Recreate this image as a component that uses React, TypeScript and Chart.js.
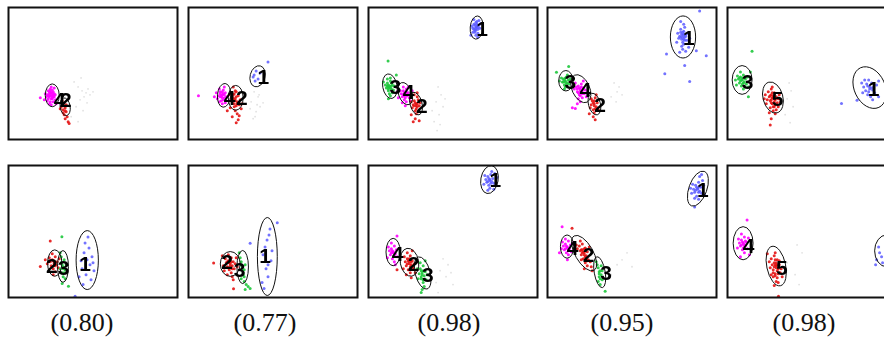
import React, { useEffect, useRef } from "react";
import { Chart, registerables } from "chart.js";

Chart.register(...registerables);

// ---------- captions ----------
const captions = ["(0.80)", "(0.77)", "(0.98)", "(0.95)", "(0.98)"];

// ---------- panel data (local coordinates, x 0..170, y 0..133 downwards) ----------
// points are flat lists: x1, y1, x2, y2, ...
// ellipses: [cx, cy, rx, ry, angleDeg]
// labels: [text, x, y]

// Panel 1 (top row, first)
const p1Magenta = [43,88, 41,85, 45,90, 40,92, 44,83, 46,87, 42,95, 39,88, 47,93, 43,80, 41,97, 45,85, 38,90, 44,92, 42,86, 46,81, 40,84, 43,98, 37,87, 45,95, 41,90, 44,89, 42,82, 39,94, 47,88, 36,93, 32,91, 48,97, 42,89, 44,91, 43,86, 41,87, 45,88, 43,92, 42,84, 44,86, 40,89, 46,90];
const p1Red = [54,96, 56,99, 55,103, 57,101, 53,100, 58,105, 56,108, 59,110, 57,112, 60,115, 55,106, 52,102, 58,98, 61,117, 54,94, 57,104];
const p1Gray = [70,80, 74,84, 78,86, 82,88, 76,90, 80,82, 72,93, 85,85, 68,100, 75,104, 79,96, 63,110, 70,115, 66,75, 73,71];
const p1Ellipses = [[44,88.5,7,11.5,0], [57,100,5,9,-10]];
const p1Labels = [["4",51.5,92.5], ["2",57.7,92.5]];

// Panel 2
const p2Blue = [66,68, 70,72, 68,64, 72,66, 80,55, 67,74, 65,70];
const p2Magenta = [34,88, 32,85, 36,91, 30,89, 35,83, 37,86, 33,94, 29,92, 38,90, 31,82, 34,97, 36,80, 28,86, 33,90, 35,93, 31,95, 26,90, 10,89, 37,96, 32,87, 33,89, 35,87, 34,91, 32,90, 36,88, 34,85];
const p2Red = [47,92, 45,88, 49,95, 44,96, 50,89, 46,100, 48,85, 51,98, 43,92, 47,104, 52,93, 45,80, 49,107, 44,110, 50,113, 42,101, 53,102, 48,116, 46,97, 41,88, 54,97, 47,84, 39,104, 51,109, 47,94, 48,90, 46,93, 49,97, 45,91, 48,99, 46,87];
const p2Gray = [66,85, 70,90, 63,95, 72,100, 68,105, 65,112, 71,88, 75,96, 62,102, 69,98, 67,110];
const p2Ellipses = [[69.5,69.3,7.5,10.8,15], [35.8,88.5,6.7,12,5], [47.5,91,7.5,12.5,0]];
const p2Labels = [["1",75.3,69.5], ["4",41.3,90.2], ["2",53.7,90.2]];

// Panel 3
const p3Blue = [108,20, 106,17, 110,22, 107,25, 109,14, 111,18, 105,21, 108,28, 110,26, 106,12, 107,23, 109,17, 112,21, 104,19, 108,15, 110,30, 105,25, 111,13, 113,16, 103,28, 108,21, 109,19, 107,18, 108,23, 110,20, 106,22];
const p3Green = [21,79, 19,76, 23,82, 20,84, 22,74, 24,78, 18,81, 21,87, 25,83, 19,72, 23,76, 17,78, 22,89, 20,80, 24,86, 26,79, 15,75, 22,71, 20,92, 19.7,54, 28,68, 21,80, 20,78, 22,81, 23,79, 20,82, 19,79];
const p3Magenta = [37,87, 35,84, 39,89, 34,90, 38,82, 40,86, 36,93, 33,87, 41,91, 35,80, 38,95, 32,84, 40,80, 36,89, 42,94, 34,96, 30,91, 44,84, 37,99, 29,85, 37,88, 36,86, 38,85, 37,91, 35,88, 39,87];
const p3Red = [48,97, 46,94, 49,100, 45,98, 50,93, 47,104, 49,90, 44,101, 51,99, 48,107, 46,88, 50,105, 43,95, 52,96, 47,112, 45,115, 51,114, 43,108, 49,86, 48,99, 47,96, 49,97, 48,102, 46,99];
const p3Gray = [70,80, 73,88, 68,95, 75,100, 71,108, 66,115, 72,118, 77,92, 64,104, 69,124];
const p3Ellipses = [[108.8,20.2,6.5,11.7,5], [21.5,79.3,7.2,12.5,-10], [37,86.8,6.7,11.7,-20], [47.8,96.8,6,11.7,-15]];
const p3Labels = [["1",114.3,20.8], ["3",27,79.5], ["4",40.3,84.2], ["2",53.7,98.5]];

// Panel 4
const p4Blue = [136,28, 134,25, 138,30, 135,32, 137,24, 139,27, 133,29, 136,35, 140,33, 134,22, 137,37, 132,31, 138,20, 135,39, 141,26, 131,26, 136,42, 139,44, 133,45, 143,31, 130,35, 137,17, 142,40, 134,14, 119.7,46.8, 159.7,48.5, 118,66.8, 143,74.5, 153,3.5, 138,58.5, 149.7,43.5, 136,30, 137,27, 135,27, 138,33, 134,30, 136,25, 139,29, 137,32];
const p4Green = [18,74, 16,72, 20,76, 17,78, 19,70, 21,73, 15,75, 18,80, 22,77, 14,71, 20,68, 17,82, 23,72, 12,74, 21.3,59.5, 9,65.2, 18,75, 17,73, 19,77, 16,75, 18,71];
const p4Magenta = [33,82, 31,79, 35,84, 30,85, 34,77, 36,81, 32,88, 29,80, 37,87, 28,76, 35,91, 31,92, 38,83, 27,82, 33,95, 26,78, 39,90, 30,97, 25,101, 28,101.8, 36,74, 40,86, 33,84, 32,81, 34,80, 31,86, 35,87, 33,89, 30,82];
const p4Red = [47,97, 45,94, 49,100, 46,103, 48,91, 44,98, 50,96, 47,106, 43,101, 49,88, 46,110, 51,103, 44,92, 48,113, 42,107, 47,99, 46,96, 48,102, 47,94];
const p4Gray = [67,76, 70,85, 72,80, 64,90, 69,95, 75,88];
const p4Ellipses = [[136.3,29.7,12.7,21.2,0], [18.5,73.8,7.2,10.3,0], [33.5,81.8,8.8,15,-25], [47.2,97.3,6,11.2,-15]];
const p4Labels = [["1",142.3,30.2], ["3",23,74.2], ["4",38,82.8], ["2",53,97.5]];

// Panel 5
const p5Green = [15,73, 13,70, 17,75, 12,76, 16,68, 18,72, 11,72, 14,79, 19,77, 10,69, 16,82, 13,65, 20,70, 9,78, 21,90, 24.7,44.2, 21,80, 8,73, 23,65, 14,73, 15,71, 13,74, 16,76, 12,71, 15,77];
const p5Red = [46,91, 44,88, 48,93, 43,94, 47,86, 49,90, 42,90, 45,97, 50,96, 41,85, 47,100, 44,82, 51,92, 40,93, 46,104, 43,101, 49,103, 38,88, 52,88, 45,80, 48,107, 42,106, 39,97, 51,100, 44,112, 43,118.5, 37,92, 53,95, 45,91, 46,89, 44,93, 47,95, 45,86, 43,89, 48,98, 46,100, 44,96, 47,92];
const p5Blue = [143,80, 140,77, 146,83, 139,84, 145,76, 147,80, 141,88, 137,80, 148,86, 142,73, 144,90, 136,86, 150,78, 138,73, 146,93, 130.3,93.5, 152,90, 135,76, 152,74, 114.7,96.8, 143,82, 141,79, 145,81, 142,85];
const p5Gray = [62,76, 64,84, 60,92, 66,100, 58,108, 63,116];
const p5Ellipses = [[14.7,73,10,14.5,0], [45.7,90.7,10,16,-15], [143,80.7,15.5,22,-25]];
const p5Labels = [["3",20.3,74.2], ["5",50.3,91.8], ["1",147,81.8]];

// Panel 6 (bottom row, first)
const p6Red = [46,98, 44,95, 48,100, 43,101, 47,92, 49,97, 42,97, 45,104, 50,103, 41,93, 47,107, 44,89, 39,99, 32,101.7, 37,95, 51,94, 42,76, 45,110, 46,99, 45,96, 47,101];
const p6Green = [55,102, 53,98, 57,105, 54,108, 56,95, 52,104, 58,100, 55,112, 53,92, 57,114, 60.3,121.7, 54,119, 52,88, 53.7,71.7, 55,104, 54,100, 56,108];
const p6Blue = [79,95, 76,88, 82,100, 74,104, 84,92, 78,110, 81,83, 73,96, 86,106, 77,78, 83,115, 75,120, 80,72, 85,98, 71,112, 67,131.7];
const p6Ellipses = [[46.5,98.3,7.2,13.3,0], [54.8,101.7,5.5,16,0], [79.2,95.3,11.2,29.7,0]];
const p6Labels = [["2",43.7,101], ["3",55.3,102.3], ["1",77,99]];

// Panel 7
const p7Red = [42,99, 40,96, 44,101, 39,102, 43,93, 45,97, 38,98, 41,105, 46,104, 37,94, 43,108, 40,90, 47,99, 35,101, 44,112, 39,110, 36,106, 48,93, 25.3,98.3, 45,115, 45.3,124.3, 34,91, 49,102, 42,101, 41,98, 43,97, 40,103, 44,104, 39,97, 42,95];
const p7Green = [54,102, 53,97, 56,105, 55,110, 52,93, 57,100, 53,114, 56,117, 58,120, 60,122, 51,88, 57,125, 62,124, 54,105, 55,108, 53,100, 56,112];
const p7Blue = [79,75, 77,82, 81,70, 75,90, 83,96, 78,104, 80,112, 74,118, 84,86, 82,64, 76,124, 89.3,57.7, 62,78.3, 80,100];
const p7Ellipses = [[42,99.2,10,12.5,0], [54.5,102.3,5.8,16.7,0], [79.3,91.7,10,39.3,0]];
const p7Labels = [["2",38.7,96.7], ["3",51.3,105], ["1",77,91]];

// Panel 8
const p8Blue = [122,14, 120,11, 124,16, 119,17, 123,9, 125,13, 118,14, 121,20, 126,18, 117,10, 122,23, 124,6, 120,25, 127,8, 116,19, 126,24, 129,12, 122,15, 121,13, 123,18, 120,16];
const p8Magenta = [25,87, 23,84, 27,89, 22,90, 26,81, 28,85, 21,86, 24,94, 29,92, 20,82, 26,97, 23,78, 28.7,71, 19,93, 27,100, 25,88, 24,86, 26,91, 23,88];
const p8Red = [41,97, 39,94, 43,100, 38,101, 42,91, 44,96, 37,97, 40,105, 45,103, 36,92, 42,108, 39,88, 46,99, 35,104, 44,86, 28.7,105, 43,113, 47,108, 38,110, 41,99, 40,96, 42,102, 39,99, 43,97, 41,94];
const p8Green = [54,108, 52,104, 56,111, 53,114, 55,101, 57,107, 51,109, 55,118, 58,115, 52,98, 56,122, 50,114, 54,125, 57,96, 53,128, 59,110, 49,104, 54,110, 55,106, 53,112, 55,115, 53,106];
const p8Gray = [75,94, 80,100, 72,106, 78,112, 68,118, 83,108, 85,120, 70,128];
const p8Ellipses = [[121.7,14.2,8.7,14.2,10], [24.8,87.2,7.2,13.8,0], [41.2,97.5,9.2,14.2,-10], [54.5,108.3,7.5,16.7,-15]];
const p8Labels = [["1",127.7,14.3], ["4",29.3,88.3], ["2",45.3,99], ["3",59.7,110]];

// Panel 9
const p9Blue = [151,23, 149,20, 153,26, 148,27, 152,17, 154,22, 147,24, 150,31, 155,28, 146,19, 152,34, 156,15, 148,33, 153,11, 157,20, 145,28, 148,41.7, 158,30, 144,23, 155,9, 151,24, 150,22, 152,27, 149,25, 153,21];
const p9Magenta = [20,82, 18,79, 22,84, 17,85, 21,76, 23,80, 16,81, 19,88, 24,87, 15,77, 21,90, 18,74, 14,84, 25,78, 14.7,61.7, 20,95, 12,88, 20,83, 19,81, 21,86, 18,84];
const p9Red = [37,88, 35,85, 39,91, 34,90, 38,83, 40,87, 33,86, 36,94, 41,95, 32,81, 38,98, 35,79, 43,97, 30,84, 40,101, 33,76, 44,102, 29,80, 37,104, 42,82, 34,95, 24.7,63.3, 45,106, 37,90, 36,87, 38,92, 35,88, 39,94, 34,85, 40,96, 37,84];
const p9Green = [52,107, 51,103, 54,110, 53,114, 50,100, 55,106, 51,117, 53,120, 49,97, 54,101, 55,115, 58,126.7, 52,109, 53,106, 52,112];
const p9Gray = [75,95, 80,88, 70,100, 85,102, 64,110];
const p9Ellipses = [[151.3,23.3,9,18.5,20], [19.7,81.7,6.7,11.7,0], [36.8,88.3,9,20,-30], [52.5,107.5,5.5,15.8,-10]];
const p9Labels = [["1",156.3,24.3], ["4",25.3,82.3], ["2",41.3,90], ["3",59,108.3]];

// Panel 10
const p10Magenta = [16,78, 14,75, 18,80, 13,81, 17,72, 19,77, 12,78, 15,85, 20,84, 11,74, 17,88, 14,69, 21,73, 10,83, 19.7,55, 13,92, 22,90, 16,79, 15,77, 17,81, 14,80, 16,83, 18,76];
const p10Red = [49,101, 47,98, 51,104, 46,105, 50,95, 52,100, 45,100, 48,109, 53,108, 44,94, 50,113, 47,91, 54,104, 43,103, 49,117, 46,112, 52,96, 42,97, 51,118, 48,88, 44,110, 55,112, 47,121, 40,89, 51.3,131.7, 49,103, 48,100, 50,106, 47,102, 49,98, 51,109, 48,111, 50,100, 46,108, 48,95];
const p10Blue = [150,95, 153,88, 155,92, 152,82, 156,98, 149,100];
const p10Gray = [70,80, 75,88, 68,110, 72,120, 60,98];
const p10Ellipses = [[15.7,78.3,10,16.7,0], [49,101.3,9.5,20.3,-12], [160,86,12,16,0]];
const p10Labels = [["4",21.3,81], ["5",54.7,102.3]];

// ---------- styles ----------
const MAGENTA = "rgba(255,0,255,0.9)";
const RED = "rgba(228,20,20,0.9)";
const GREEN = "rgba(30,200,60,0.9)";
const BLUE = "rgba(90,90,255,0.85)";
const GRAY = "rgba(218,218,218,0.8)";

type PanelDef = {
  sets: [number[], string][];
  ellipses: number[][];
  labels: (string | number)[][];
};

const panels: PanelDef[] = [
  { sets: [[p1Magenta, MAGENTA], [p1Red, RED], [p1Gray, GRAY]], ellipses: p1Ellipses, labels: p1Labels },
  { sets: [[p2Blue, BLUE], [p2Red, RED], [p2Magenta, MAGENTA], [p2Gray, GRAY]], ellipses: p2Ellipses, labels: p2Labels },
  { sets: [[p3Blue, BLUE], [p3Red, RED], [p3Magenta, MAGENTA], [p3Green, GREEN], [p3Gray, GRAY]], ellipses: p3Ellipses, labels: p3Labels },
  { sets: [[p4Blue, BLUE], [p4Red, RED], [p4Magenta, MAGENTA], [p4Green, GREEN], [p4Gray, GRAY]], ellipses: p4Ellipses, labels: p4Labels },
  { sets: [[p5Blue, BLUE], [p5Red, RED], [p5Green, GREEN], [p5Gray, GRAY]], ellipses: p5Ellipses, labels: p5Labels },
  { sets: [[p6Blue, BLUE], [p6Green, GREEN], [p6Red, RED]], ellipses: p6Ellipses, labels: p6Labels },
  { sets: [[p7Blue, BLUE], [p7Green, GREEN], [p7Red, RED]], ellipses: p7Ellipses, labels: p7Labels },
  { sets: [[p8Blue, BLUE], [p8Green, GREEN], [p8Red, RED], [p8Magenta, MAGENTA], [p8Gray, GRAY]], ellipses: p8Ellipses, labels: p8Labels },
  { sets: [[p9Blue, BLUE], [p9Green, GREEN], [p9Red, RED], [p9Magenta, MAGENTA], [p9Gray, GRAY]], ellipses: p9Ellipses, labels: p9Labels },
  { sets: [[p10Blue, BLUE], [p10Red, RED], [p10Magenta, MAGENTA], [p10Gray, GRAY]], ellipses: p10Ellipses, labels: p10Labels },
];

// layout
const COL_LEFT = [8, 188, 368, 547, 727];
const ROW_TOP = [7, 165];
const CAPTION_CENTER = [82, 265, 449, 622, 804];
const W = 170;
const H = 133;

function toXY(flat: number[]) {
  const out: { x: number; y: number }[] = [];
  for (let i = 0; i + 1 < flat.length; i += 2) out.push({ x: flat[i], y: flat[i + 1] });
  return out;
}

function PanelChart({ def, left, top }: { def: PanelDef; left: number; top: number }) {
  const ref = useRef<HTMLCanvasElement | null>(null);
  useEffect(() => {
    const canvas = ref.current;
    if (!canvas) return;
    const overlay = {
      id: "overlay",
      afterDatasetsDraw(chart: any) {
        const { ctx, chartArea, scales } = chart;
        const xs = scales.x;
        const ys = scales.y;
        ctx.save();
        ctx.beginPath();
        ctx.rect(chartArea.left, chartArea.top, chartArea.right - chartArea.left, chartArea.bottom - chartArea.top);
        ctx.clip();
        ctx.strokeStyle = "#111";
        ctx.lineWidth = 1;
        for (const e of def.ellipses) {
          const [cx, cy, rx, ry, ang] = e;
          const px = xs.getPixelForValue(cx);
          const py = ys.getPixelForValue(cy);
          const prx = Math.abs(xs.getPixelForValue(cx + rx) - px);
          const pry = Math.abs(ys.getPixelForValue(cy + ry) - py);
          ctx.beginPath();
          ctx.ellipse(px, py, prx, pry, (ang * Math.PI) / 180, 0, Math.PI * 2);
          ctx.stroke();
        }
        ctx.fillStyle = "#000";
        ctx.font = 'bold 21px "Liberation Sans", Arial, sans-serif';
        ctx.textAlign = "center";
        ctx.textBaseline = "alphabetic";
        for (const l of def.labels) {
          const px = xs.getPixelForValue(l[1] as number);
          const py = ys.getPixelForValue(l[2] as number);
          ctx.fillText(String(l[0]), px, py + 7.5);
        }
        ctx.restore();
        // frame
        ctx.save();
        ctx.strokeStyle = "#111";
        ctx.lineWidth = 2;
        ctx.strokeRect(chartArea.left, chartArea.top, chartArea.right - chartArea.left, chartArea.bottom - chartArea.top);
        ctx.restore();
      },
    };
    const chart = new Chart(canvas, {
      type: "scatter",
      data: {
        datasets: def.sets.map(([pts, color]) => ({
          data: toXY(pts),
          backgroundColor: color,
          borderWidth: 0,
          pointRadius: color === GRAY ? 0.9 : 1.5,
          pointBorderWidth: 0,
          pointHoverRadius: 0,
        })),
      },
      options: {
        responsive: false,
        maintainAspectRatio: false,
        animation: false,
        events: [],
        layout: { padding: 1 },
        scales: {
          x: { type: "linear", min: 0, max: W, display: false },
          y: { type: "linear", min: 0, max: H, reverse: true, display: false },
        },
        plugins: {
          legend: { display: false },
          tooltip: { enabled: false },
          title: { display: false },
        },
      },
      plugins: [overlay],
    } as any);
    return () => chart.destroy();
  }, [def]);
  return (
    <canvas
      ref={ref}
      width={W + 2}
      height={H + 2}
      style={{ position: "absolute", left: left - 1, top: top - 1, width: W + 2, height: H + 2, display: "block" }}
    />
  );
}

export default function App() {
  return (
    <div
      style={{
        position: "fixed",
        left: 0,
        top: 0,
        width: 884,
        height: 339,
        overflow: "hidden",
        background: "#fff",
      }}
    >
      {panels.map((def, i) => (
        <PanelChart key={i} def={def} left={COL_LEFT[i % 5]} top={ROW_TOP[Math.floor(i / 5)]} />
      ))}
      {captions.map((c, i) => (
        <div
          key={"c" + i}
          style={{
            position: "absolute",
            left: CAPTION_CENTER[i] - 60,
            top: 308,
            width: 120,
            textAlign: "center",
            fontFamily: '"Liberation Serif", "Times New Roman", serif',
            fontSize: 26,
            lineHeight: "30px",
            color: "#111",
          }}
        >
          {c}
        </div>
      ))}
    </div>
  );
}
